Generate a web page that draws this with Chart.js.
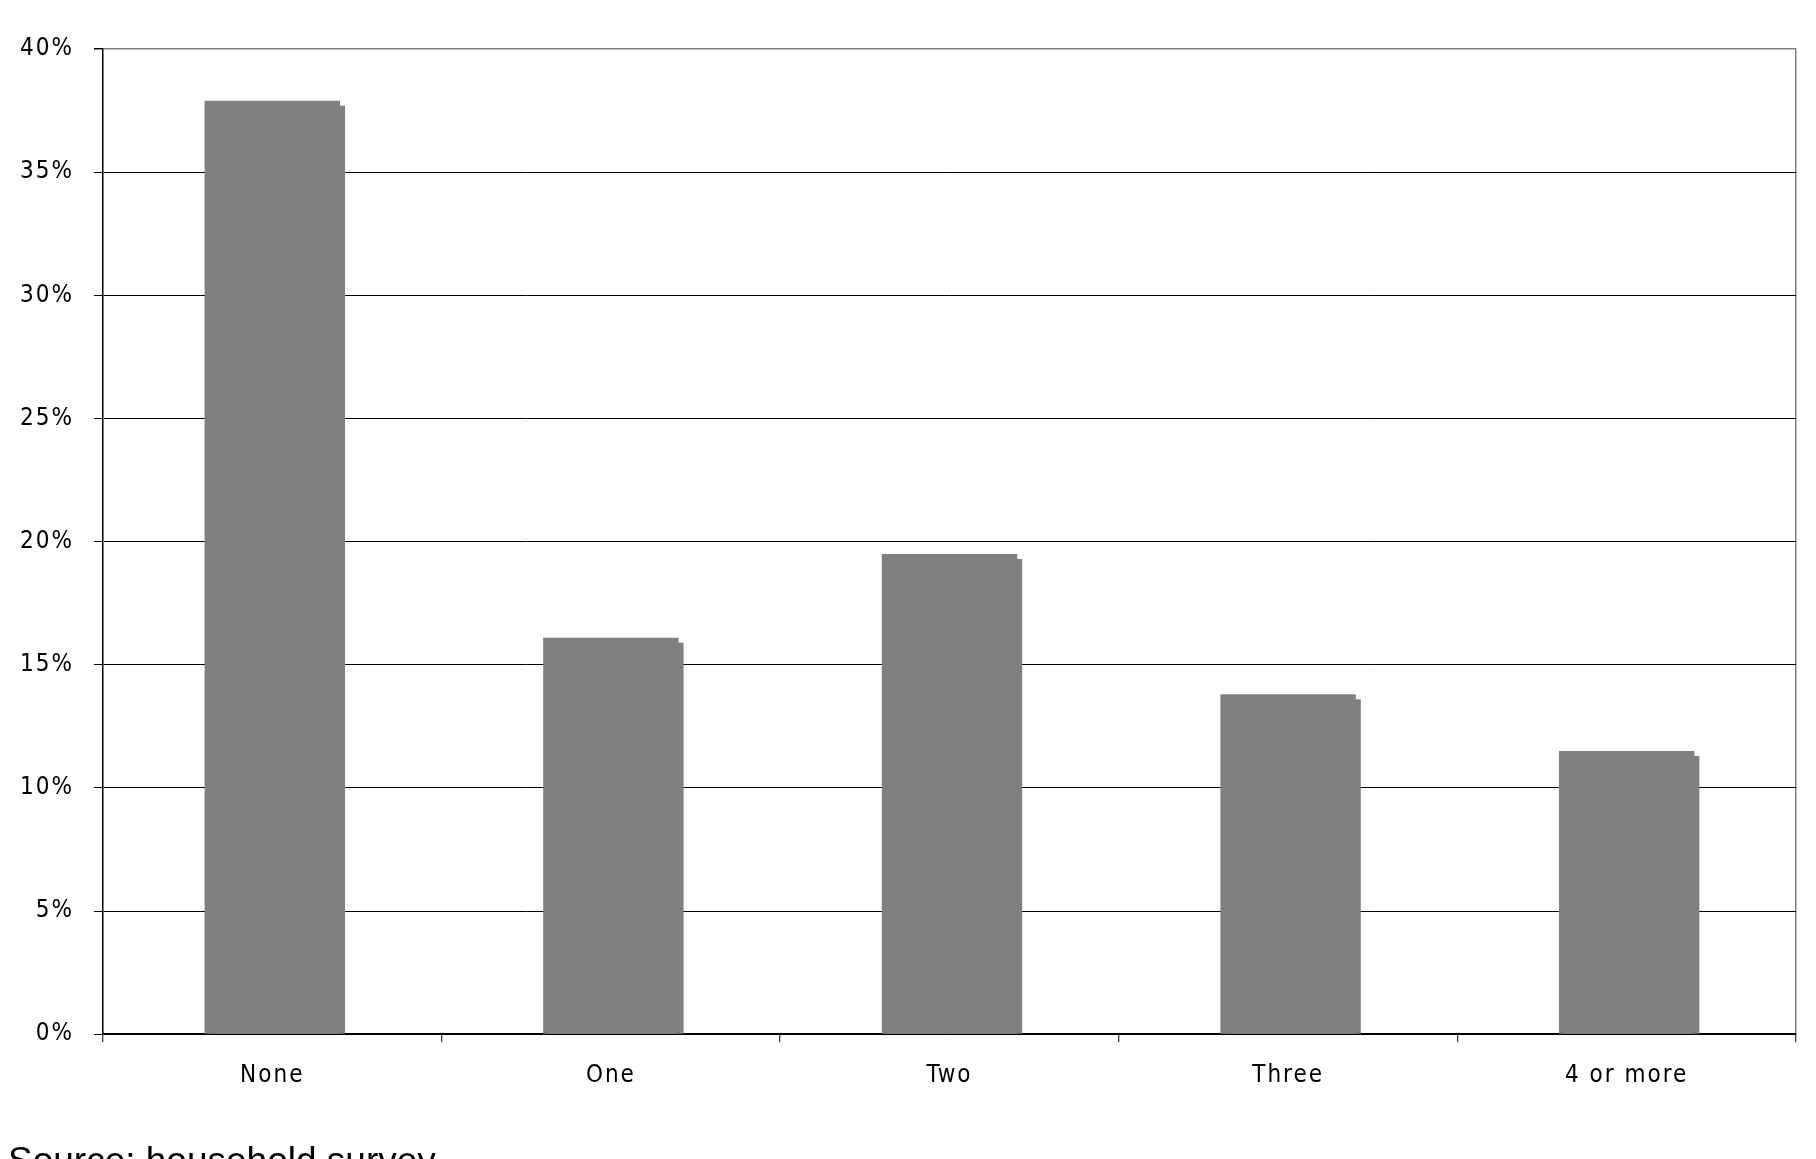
<!DOCTYPE html>
<html>
<head>
<meta charset="utf-8">
<script src="https://cdn.jsdelivr.net/npm/chart.js@4/dist/chart.umd.min.js"></script>
<style>
  html, body { margin: 0; padding: 0; background: #fff; overflow: hidden; }
  #wrap { position: relative; width: 1816px; height: 1159px; }
  #source { position: absolute; left: 8px; top: 1142px; font-family: "Liberation Sans", Arial, sans-serif; font-size: 37px; line-height: 37px; color: #000; white-space: nowrap; }
</style>
</head>
<body>
<div id="wrap">
  <canvas id="c" width="1816" height="1159"></canvas>
  <div id="source">Source: household survey</div>
</div>
<script>
const categories = ["None", "One", "Two", "Three", "4 or more"];
const shares = [37.9, 16.1, 19.5, 13.8, 11.5];
const yTicks = [0, 5, 10, 15, 20, 25, 30, 35, 40];

const TICK_FONT = '"DejaVu Sans Condensed", "DejaVu Sans", sans-serif';

const spacing = {
  id: 'spacing',
  beforeLayout(chart) { chart.ctx.letterSpacing = '2px'; },
  beforeDraw(chart) { chart.ctx.letterSpacing = '2px'; }
};

const barShadow = {
  id: 'barShadow',
  beforeDatasetsDraw(chart) {
    const ctx = chart.ctx;
    const meta = chart.getDatasetMeta(0);
    ctx.save();
    ctx.fillStyle = '#808080';
    meta.data.forEach(el => {
      const p = el.getProps(['x', 'y', 'base', 'width'], true);
      const off = 5;
      ctx.fillRect(p.x - p.width / 2 + off, p.y + off, p.width, p.base - p.y - off);
    });
    ctx.restore();
  }
};

new Chart(document.getElementById('c'), {
  type: 'bar',
  data: {
    labels: categories,
    datasets: [{
      data: shares,
      backgroundColor: '#808080',
      borderWidth: 0,
      barPercentage: 0.4,
      categoryPercentage: 1.0
    }]
  },
  options: {
    responsive: false,
    animation: false,
    events: [],
    layout: { padding: { top: 49, right: 20, bottom: 50, left: 0 } },
    plugins: { legend: { display: false }, tooltip: { enabled: false } },
    scales: {
      x: {
        offset: true,
        grid: {
          offset: true,
          drawOnChartArea: true,
          color: c => (c.type === 'tick' ? 'rgba(0,0,0,0)' : '#808080'),
          lineWidth: 1.5,
          tickColor: '#000',
          tickLength: 8,
          tickWidth: 1
        },
        border: { display: true, color: '#000', width: 1.5 },
        ticks: {
          color: '#000',
          padding: 19,
          font: { family: TICK_FONT, size: 24 }
        }
      },
      y: {
        min: 0,
        max: 40,
        afterBuildTicks: axis => { axis.ticks = yTicks.map(v => ({ value: v })); },
        grid: {
          color: c => (c.tick && c.tick.value === 40 ? '#808080' : '#000'),
          lineWidth: c => (c.tick && c.tick.value === 40 ? 1.5 : 1),
          tickColor: '#000',
          tickLength: 9
        },
        border: { display: true, color: '#000', width: 1.5 },
        ticks: {
          color: '#000',
          padding: 20,
          callback: v => v + '%',
          font: { family: TICK_FONT, size: 24 }
        }
      }
    }
  },
  plugins: [spacing, barShadow]
});
</script>
</body>
</html>
